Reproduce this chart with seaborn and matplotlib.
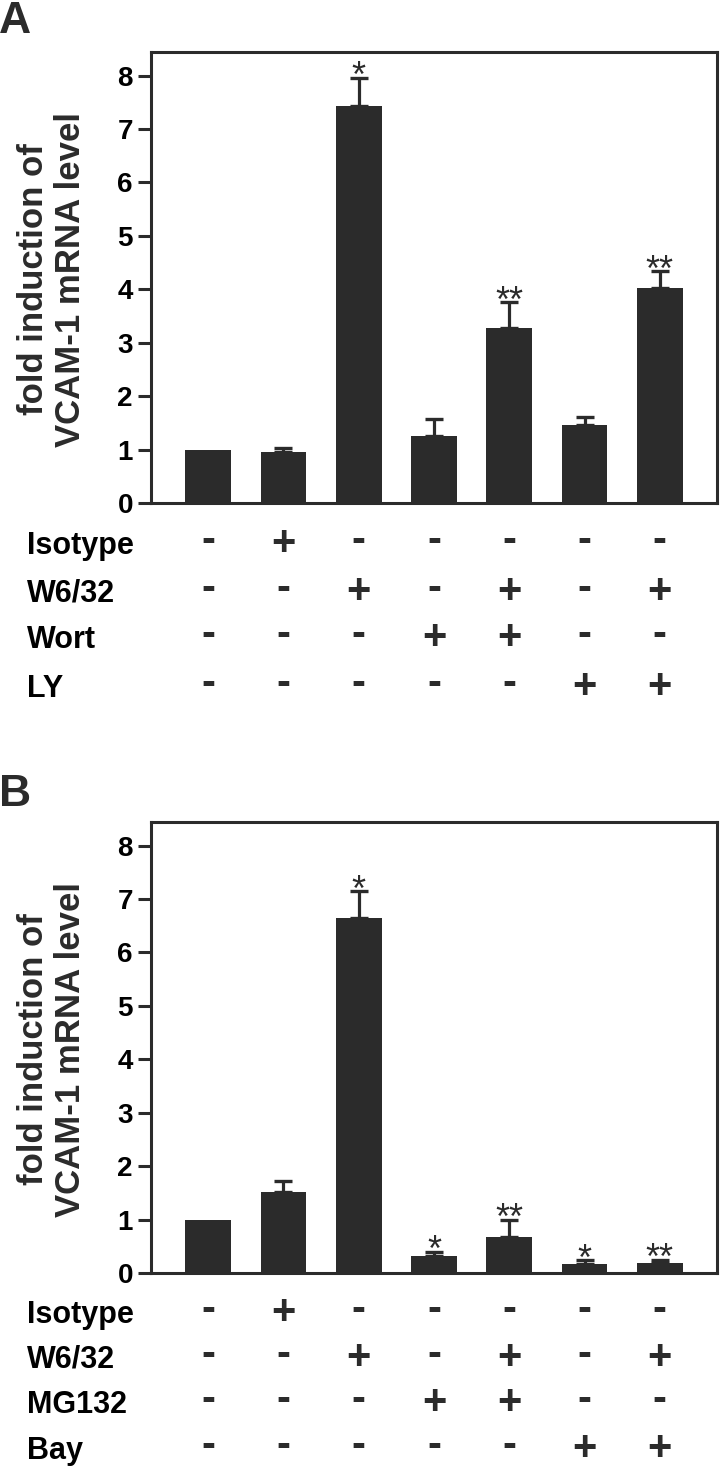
import numpy as np
import pandas as pd
import seaborn as sns
import matplotlib.pyplot as plt
from matplotlib import font_manager
from matplotlib.transforms import blended_transform_factory

# bar groups (7 treatment combinations per panel)
groups = ['c1', 'c2', 'c3', 'c4', 'c5', 'c6', 'c7']

# panel A values
a_vals = [1.0, 0.95, 7.43, 1.25, 3.28, 1.46, 4.03]
a_err = [0.0, 0.08, 0.53, 0.33, 0.48, 0.15, 0.31]
a_stars = ['', '', '*', '', '**', '', '**']
a_factors = ['Isotype', 'W6/32', 'Wort', 'LY']
a_signs = ['-+-----', '--+-+-+', '---++--', '-----++']

# panel B values
b_vals = [1.0, 1.52, 6.64, 0.32, 0.68, 0.17, 0.19]
b_err = [0.0, 0.20, 0.51, 0.08, 0.32, 0.07, 0.06]
b_stars = ['', '', '*', '*', '**', '*', '**']
b_factors = ['Isotype', 'W6/32', 'MG132', 'Bay']
b_signs = ['-+-----', '--+-+-+', '---++--', '-----++']

yticks = [0, 1, 2, 3, 4, 5, 6, 7, 8]
ylabel_lines = ['fold induction of', 'VCAM-1 mRNA level']

DARK = '#2b2b2b'
W, H = 720, 1470
SANS = ['Liberation Sans', 'DejaVu Sans']

# row labels in the original use a condensed bold face
installed = {f.name for f in font_manager.fontManager.ttflist}
if 'Liberation Sans Narrow' in installed:
    ROW_FONT, ROW_SIZE = ['Liberation Sans Narrow', 'DejaVu Sans'], 25
else:
    ROW_FONT, ROW_SIZE = SANS, 22

sns.set_theme(style='white')
plt.rcParams['font.family'] = SANS

fig = plt.figure(figsize=(W / 100, H / 100), dpi=100)


def add_px_axes(left, top, right, bottom):
    return fig.add_axes([left / W, 1 - bottom / H, (right - left) / W, (bottom - top) / H])


def draw_panel(letter, letter_base, top, bottom, row_offsets,
               vals, err, stars, factors, signs):
    ax = add_px_axes(151, top, 717, bottom)
    df = pd.DataFrame({'group': groups, 'value': vals})
    sns.barplot(data=df, x='group', y='value', color=DARK, saturation=1,
                width=0.61, errorbar=None, linewidth=0, ax=ax)

    x = np.arange(len(vals))
    err = np.array(err)
    has = err > 0
    ax.errorbar(x[has], np.array(vals)[has], yerr=[np.zeros(has.sum()), err[has]],
                fmt='none', ecolor=DARK, elinewidth=2.3, capsize=6.8, capthick=2.4, zorder=1)

    for i, s in enumerate(stars):
        if s:
            ax.annotate(s, xy=(i, vals[i] + err[i]), xytext=(0, -7), textcoords='offset points',
                        ha='center', va='baseline', fontsize=26, color=DARK, family=SANS)

    ax.set_xlim(-0.76, 6.76)
    ax.set_ylim(0, 8.44)
    ax.set_yticks(yticks)
    ax.set_xticks([])
    ax.set_xlabel('')
    ax.set_ylabel('')
    ax.tick_params(axis='y', direction='out', left=True, length=9.4, width=2.2,
                   pad=3.6, labelsize=20, color=DARK, labelcolor='black')
    for lab in ax.get_yticklabels():
        lab.set_fontfamily(SANS)
        lab.set_fontweight('bold')
    for sp in ax.spines.values():
        sp.set_visible(True)
        sp.set_linewidth(2.2)
        sp.set_color(DARK)

    # y label, two lines rotated
    yc = 1 - ((top + bottom) / 2 + 2) / H
    for xb, line in zip([43, 80], ylabel_lines):
        fig.text(xb / W, yc, line, rotation=90, rotation_mode='anchor', ha='center',
                 va='baseline', fontsize=25, fontweight='bold', color=DARK, family=SANS)

    # panel letter
    fig.text(-1 / W, 1 - letter_base / H, letter, fontsize=32, fontweight='bold',
             color=DARK, family=SANS, va='baseline', ha='left')

    # treatment table under the bars
    trans = blended_transform_factory(ax.transData, fig.transFigure)
    shift = {'+': 1, '-': -2}
    for off, name, row in zip(row_offsets, factors, signs):
        base = bottom + off
        fig.text(27 / W, 1 - base / H, name, fontsize=ROW_SIZE, fontweight='bold',
                 color='black', family=ROW_FONT, va='baseline', ha='left')
        for i, s in enumerate(row):
            ax.text(i, 1 - (base + shift[s]) / H, s, transform=trans, ha='center', va='baseline',
                    fontsize=30, fontweight='bold', color=DARK, family=SANS)
    return ax


draw_panel('A', 33, 52, 503, [51, 99, 145, 194],
           a_vals, a_err, a_stars, a_factors, a_signs)
draw_panel('B', 806, 822, 1273, [50, 95, 140, 186],
           b_vals, b_err, b_stars, b_factors, b_signs)

fig.savefig('out.png', dpi=100, facecolor='white')
